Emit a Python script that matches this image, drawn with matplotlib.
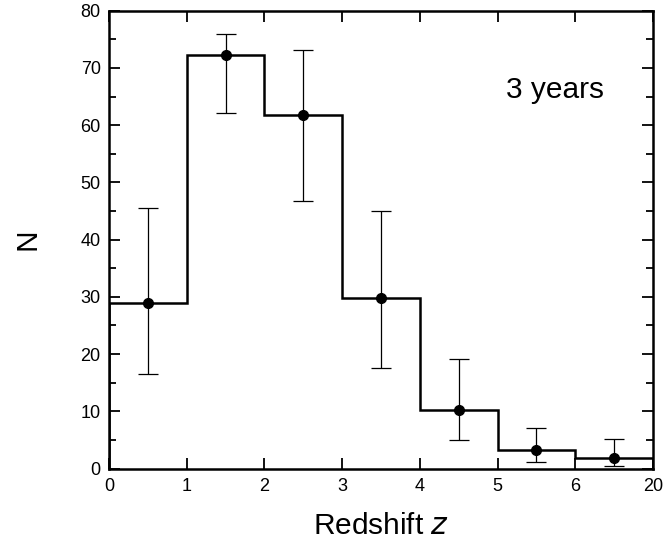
import numpy as np
import matplotlib.pyplot as plt
from matplotlib.ticker import MultipleLocator

plt.rcParams['font.family'] = ['Liberation Sans', 'DejaVu Sans']

edge_labels = ['0', '1', '2', '3', '4', '5', '6', '20']
counts = [28.9, 72.2, 61.7, 29.8, 10.3, 3.2, 1.8]
err_hi = [45.6, 75.9, 73.1, 45.0, 19.1, 7.1, 5.2]
err_lo = [16.6, 62.1, 46.8, 17.6, 4.9, 1.2, 0.5]

edges = np.arange(len(edge_labels))
centers = edges[:-1] + 0.5
counts = np.array(counts)
yerr = [counts - np.array(err_lo), np.array(err_hi) - counts]

fig = plt.figure(figsize=(6.69, 5.41), dpi=100)
ax = fig.add_axes([109 / 669, 1 - 468.5 / 541, 544 / 669, 457.8 / 541])

ax.stairs(counts, edges, color='black', linewidth=1.8)
ax.errorbar(centers, counts, yerr=yerr, fmt='o', color='black', markersize=7,
            elinewidth=0.9, capsize=7, capthick=0.9)

ax.set_xlim(0, 7)
ax.set_ylim(0, 80)
ax.set_xticks(edges)
ax.set_xticklabels(edge_labels)
ax.yaxis.set_major_locator(MultipleLocator(10))
ax.yaxis.set_minor_locator(MultipleLocator(5))
ax.tick_params(which='both', direction='in', top=True, right=True, labelsize=13, width=1.3)
ax.tick_params(which='major', length=8)
ax.tick_params(which='minor', length=5)
ax.tick_params(axis='x', pad=7)
ax.tick_params(axis='y', pad=6)
for s in ax.spines.values():
    s.set_linewidth(1.8)

ax.set_xlabel('Redshift $\\it{z}$', fontsize=21.5, labelpad=12)
ax.set_ylabel('N', fontsize=21.5, labelpad=28)
ax.text(0.91, 0.81, '3 years', transform=ax.transAxes, fontsize=21.5, ha='right')

fig.savefig('out.png', dpi=100)
